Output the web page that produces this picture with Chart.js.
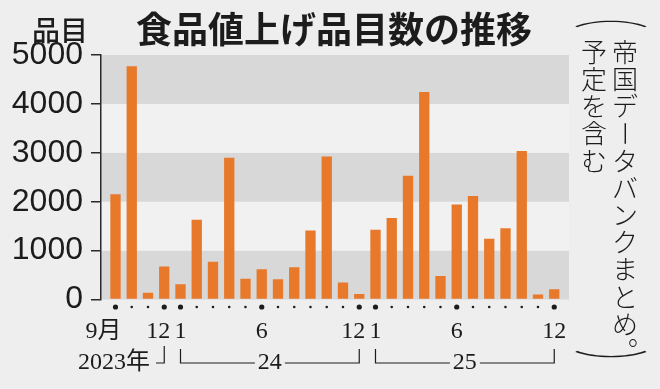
<!DOCTYPE html>
<html><head><meta charset="utf-8">
<script src="https://cdn.jsdelivr.net/npm/chart.js@4/dist/chart.umd.min.js"></script>
<style>
html,body{margin:0;padding:0;background:#eeeeee;}
#wrap{width:660px;height:389px;position:relative;}
</style></head><body>
<div id="wrap"><canvas id="c" width="660" height="389"></canvas></div>
<script>
// ---- data ----
const months = ["2023-09","2023-10","2023-11","2023-12",
  "2024-01","2024-02","2024-03","2024-04","2024-05","2024-06","2024-07","2024-08","2024-09","2024-10","2024-11","2024-12",
  "2025-01","2025-02","2025-03","2025-04","2025-05","2025-06","2025-07","2025-08","2025-09","2025-10","2025-11","2025-12"];
const itemCounts = [2150, 4770, 140, 675,
  310, 1630, 770, 2900, 425, 620, 415, 660, 1410, 2925, 350, 110,
  1425, 1665, 2530, 4245, 480, 1945, 2115, 1240, 1455, 3035, 100, 210];
const tickMonths = [0, 3, 4, 9, 15, 16, 21, 27];
const tickLabels = ["9月", "12", "1", "6", "12", "1", "6", "12"];
const yearLabels = ["2023年", "24", "25"];
const yearStart = [0, 4, 16];
const yearEnd = [3, 15, 27];
const yTicks = [0, 1000, 2000, 3000, 4000, 5000];
const titleText = "食品値上げ品目数の推移";
const unitText = "品目";
const noteRight = "帝国データバンクまとめ";
const noteLeft = "予定を含む";

// ---- style ----
const labelNudge = ["\u2003", "\u2002", "", "", "\u2002", "", "", ""];
const INK = "#1c1c1c";
const BAR = "#e8792b";
const BAND_DARK = "#d8d8d8";
const BAND_LIGHT = "#f1f1f1";
const PAGE = "#eeeeee";
const CJK = "'Noto Sans CJK JP', sans-serif";

const bandsPlugin = {
  id: 'bands',
  beforeDraw(chart) {
    const {ctx, chartArea: a} = chart;
    const y = chart.scales.y;
    ctx.save();
    ctx.fillStyle = PAGE;
    ctx.fillRect(0, 0, chart.width, chart.height);
    for (let k = 0; k < yTicks.length - 1; k++) {
      const top = y.getPixelForValue(yTicks[k + 1]);
      const bot = y.getPixelForValue(yTicks[k]);
      ctx.fillStyle = (k % 2 === 0) ? BAND_DARK : BAND_LIGHT;
      ctx.fillRect(a.left, top, a.right - a.left, bot - top);
    }
    ctx.restore();
  }
};

const decorPlugin = {
  id: 'decor',
  afterDraw(chart) {
    const {ctx, chartArea: a} = chart;
    const x = chart.scales.x;
    ctx.save();
    // month dots
    ctx.fillStyle = INK;
    months.forEach((m, i) => {
      const big = tickMonths.includes(i);
      ctx.beginPath();
      ctx.arc(x.getPixelForValue(i), a.bottom + 7.5, big ? 2.6 : 1.3, 0, Math.PI * 2);
      ctx.fill();
    });
    // title
    ctx.fillStyle = INK;
    ctx.textBaseline = 'middle';
    ctx.textAlign = 'center';
    ctx.font = "bold 36px " + CJK;
    ctx.fillText(titleText, 334, 29);
    ctx.font = "500 28px " + CJK;
    ctx.fillText(unitText, 60, 30);
    // year row
    const yy = 362;
    ctx.font = "24px 'Liberation Serif', " + CJK;
    ctx.strokeStyle = INK;
    ctx.lineWidth = 1.2;
    yearLabels.forEach((lab, g) => {
      const xs = x.getPixelForValue(yearStart[g]);
      const xe = x.getPixelForValue(yearEnd[g]);
      if (g === 0) {
        ctx.textAlign = 'right';
        ctx.fillText(lab, 150, yy + 1);
        ctx.beginPath();
        ctx.moveTo(156, yy + 1); ctx.lineTo(xe, yy + 1); ctx.lineTo(xe, 346);
        ctx.stroke();
      } else {
        const cx = (xs + xe) / 2;
        const hw = ctx.measureText(lab).width / 2 + 3;
        ctx.textAlign = 'center';
        ctx.fillText(lab, cx, yy + 1);
        ctx.beginPath();
        ctx.moveTo(xs, 349); ctx.lineTo(xs, yy + 1); ctx.lineTo(cx - hw, yy + 1);
        ctx.moveTo(cx + hw, yy + 1); ctx.lineTo(xe, yy + 1); ctx.lineTo(xe, 349);
        ctx.stroke();
      }
    });
    // vertical note
    ctx.font = "300 26px " + CJK;
    ctx.textAlign = 'center';
    const pitch = 27.2;
    const drawCol = (str, cx, y0) => {
      [...str].forEach((ch, i) => {
        const cy = y0 + i * pitch;
        if (ch === 'ー') {
          ctx.save(); ctx.translate(cx, cy); ctx.rotate(Math.PI / 2);
          ctx.fillText(ch, 0, 0); ctx.restore();
        } else {
          ctx.fillText(ch, cx, cy);
        }
      });
    };
    drawCol(noteRight, 625, 52);
    drawCol(noteLeft, 594, 52);
    ctx.fillText("︒", 625, 52 + noteRight.length * pitch);
    ctx.save(); ctx.translate(611, 15); ctx.scale(2.9, 1);
    ctx.fillText("︵", 0, 0); ctx.restore();
    ctx.save(); ctx.translate(611, 363); ctx.scale(2.9, 1);
    ctx.fillText("︶", 0, 0); ctx.restore();
    ctx.restore();
  }
};

new Chart(document.getElementById('c'), {
  type: 'bar',
  data: {
    datasets: [{
      label: '品目数',
      data: itemCounts.map((v, i) => ({x: i, y: v})),
      backgroundColor: BAR,
      borderWidth: 0,
      barPercentage: 0.635,
      categoryPercentage: 1
    }]
  },
  options: {
    responsive: false,
    animation: false,
    devicePixelRatio: 1,
    layout: {padding: {top: 55, right: 91, left: 0, bottom: 0}},
    plugins: {legend: {display: false}, tooltip: {enabled: false}, title: {display: false}},
    scales: {
      x: {
        type: 'linear', min: -0.892, max: 27.908, offset: false,
        grid: {display: false, drawTicks: false, offset: false},
        border: {display: false},
        afterBuildTicks: s => { s.ticks = tickMonths.map(v => ({value: v})); },
        afterFit: s => { s.height = 89.5; },
        ticks: {
          autoSkip: false, maxRotation: 0, padding: 18, color: INK,
          font: {family: "'Liberation Serif', 'Noto Sans CJK JP', serif", size: 24},
          callback: v => { const k = tickMonths.indexOf(v); return k < 0 ? '' : tickLabels[k] + labelNudge[k]; }
        }
      },
      y: {
        min: 0, max: 5000,
        afterBuildTicks: s => { s.ticks = yTicks.map(v => ({value: v})); },
        afterFit: s => { s.width = 101; },
        ticks: {padding: 8, color: INK,
          font: {family: "'Liberation Sans', sans-serif", size: 32},
          callback: v => String(v)},
        grid: {drawOnChartArea: false, tickLength: 10, color: '#2a2a2a', lineWidth: 1.5},
        border: {color: '#2a2a2a', width: 1.5}
      }
    }
  },
  plugins: [bandsPlugin, decorPlugin]
});
</script>
</body></html>
